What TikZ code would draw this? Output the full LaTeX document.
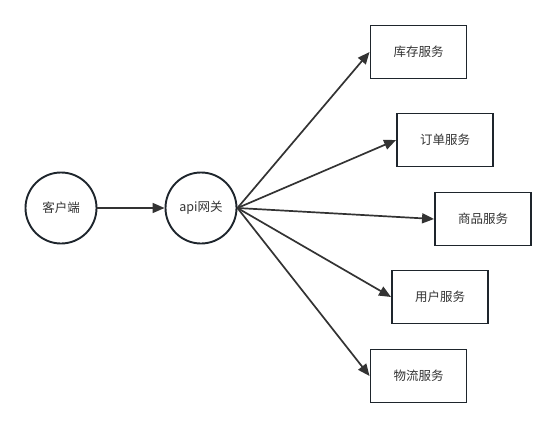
\documentclass[tikz,border=0pt]{standalone}
\usepackage{fontspec}
\setmainfont{Noto Sans CJK SC}
\usetikzlibrary{arrows.meta}
\definecolor{ln}{HTML}{333333}
\definecolor{bd}{HTML}{1E252C}
\begin{document}
\begin{tikzpicture}[x=1pt,y=-1pt,
  every node/.style={font=\fontsize{12.5}{15}\selectfont, text=ln},
  circ/.style={circle, draw=bd, line width=1.9pt, minimum size=71pt, inner sep=0pt},
  svc/.style={rectangle, draw=bd, line width=1.9pt, minimum width=96pt, minimum height=53pt, inner sep=0pt},
  conn/.style={draw=ln, line width=1.7pt, -{Triangle[length=12pt,width=10pt]}}]
\useasboundingbox (0,0) rectangle (556,428);
\node[circ] (client) at (61,208) {客户端};
\node[circ] (api) at (201,208) {api网关};
\node[svc] (kc) at (418.5,52) {库存服务};
\node[svc] (dd) at (445,140) {订单服务};
\node[svc] (sp) at (483,219) {商品服务};
\node[svc] (yh) at (440,297) {用户服务};
\node[svc] (wl) at (418.5,376) {物流服务};
\draw[conn] (client.east) -- (api.west);
\draw[conn] (api.east) -- (kc.west);
\draw[conn] (api.east) -- (dd.west);
\draw[conn] (api.east) -- (sp.west);
\draw[conn] (api.east) -- (yh.west);
\draw[conn] (api.east) -- (wl.west);
\end{tikzpicture}
\end{document}
